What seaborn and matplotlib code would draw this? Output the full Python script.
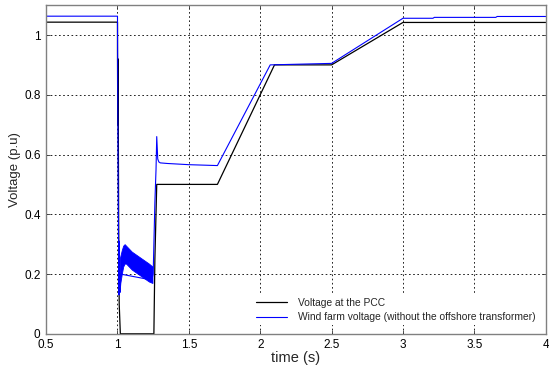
import matplotlib
matplotlib.use("Agg")
import matplotlib.pyplot as plt
import seaborn as sns
import numpy as np

# ---- data ----
t_pcc = [0.5, 1.0, 1.0, 1.002, 1.004, 1.006, 1.008, 1.012, 1.02, 1.255, 1.262, 1.275,
         1.7, 2.1, 2.5, 3.0, 4.0]
v_pcc = [1.043, 1.043, 0.95, 0.70, 0.92, 0.67, 0.40, 0.10, 0.0, 0.0, 0.25, 0.50,
         0.50, 0.90, 0.90, 1.042, 1.042]

t_wf = [0.5, 1.0, 1.004, 1.010, 1.013, 1.016, 1.02, 1.24, 1.25, 1.262, 1.27, 1.275,
        1.282, 1.29, 1.30, 1.35, 1.50, 1.70, 2.07, 2.50, 3.00, 3.21, 3.22, 3.65,
        3.66, 4.0]
v_wf = [1.063, 1.063, 0.55, 0.13, 0.31, 0.16, 0.20, 0.18, 0.20, 0.44, 0.55, 0.66,
        0.585, 0.575, 0.572, 0.570, 0.566, 0.563, 0.90, 0.905, 1.056, 1.056, 1.059, 1.059,
        1.062, 1.062]

# oscillation band of the wind farm voltage during the fault
t_band = [1.015, 1.02, 1.03, 1.04, 1.05, 1.06, 1.08, 1.10, 1.13, 1.16, 1.19, 1.22, 1.245]
v_band_lo = [0.14, 0.17, 0.20, 0.225, 0.235, 0.235, 0.225, 0.215, 0.205, 0.195, 0.185, 0.175, 0.17]
v_band_hi = [0.25, 0.26, 0.28, 0.295, 0.30, 0.295, 0.285, 0.275, 0.265, 0.255, 0.245, 0.235, 0.225]

x_ticks = [0.5, 1, 1.5, 2, 2.5, 3, 3.5, 4]
x_tick_labels = ["0.5", "1", "1.5", "2", "2.5", "3", "3.5", "4"]
y_ticks = [0, 0.2, 0.4, 0.6, 0.8, 1.0]
y_tick_labels = ["0", "0.2", "0.4", "0.6", "0.8", "1"]

label_pcc = "Voltage at the PCC"
label_wf = "Wind farm voltage (without the offshore transformer)"

# ---- plot ----
sns.set_style("white")
plt.rcParams['font.family'] = ['Liberation Sans', 'DejaVu Sans']

fig = plt.figure(figsize=(5.49, 3.66), dpi=100)
ax = fig.add_axes([0.084, 0.088, 0.91, 0.898])

sns.lineplot(x=t_pcc, y=v_pcc, ax=ax, sort=False, estimator=None,
             color="black", lw=0.9, label=label_pcc)
sns.lineplot(x=t_wf, y=v_wf, ax=ax, sort=False, estimator=None,
             color="blue", lw=0.8, label=label_wf)
ax.fill_between(t_band, v_band_lo, v_band_hi, color="blue", lw=0.6, edgecolor="blue")

ax.set_xlim(0.5, 4)
ax.set_ylim(0, 1.1)
ax.set_xticks(x_ticks)
ax.set_xticklabels(x_tick_labels)
ax.set_yticks(y_ticks)
ax.set_yticklabels(y_tick_labels)
ax.tick_params(axis="x", direction="in", length=3, width=0.6, labelsize=8.5, pad=4,
               colors="#333333", bottom=True, top=True)
ax.tick_params(axis="y", direction="in", length=3, width=0.6, labelsize=8.5, pad=4,
               colors="#333333", left=True, right=True)
for lab in ax.get_xticklabels() + ax.get_yticklabels():
    lab.set_color("black")

ax.grid(True, color="black", linestyle=(0, (2, 3)), lw=0.6)
for s in ax.spines.values():
    s.set_color("#808080")
    s.set_linewidth(1.0)

ax.set_xlabel("time (s)", fontsize=10.5, labelpad=0)
ax.set_ylabel("Voltage (p.u)", fontsize=9.5, labelpad=2)

leg = ax.legend(loc="lower right", bbox_to_anchor=(0.997, 0.01), fontsize=7.4,
                frameon=True, fancybox=False, handlelength=3.0, handletextpad=1.1,
                borderpad=0.3, labelspacing=0.45)
leg.get_frame().set_edgecolor("none")
leg.get_frame().set_facecolor("white")
leg.get_frame().set_alpha(1.0)

fig.savefig("out.png", dpi=100)
